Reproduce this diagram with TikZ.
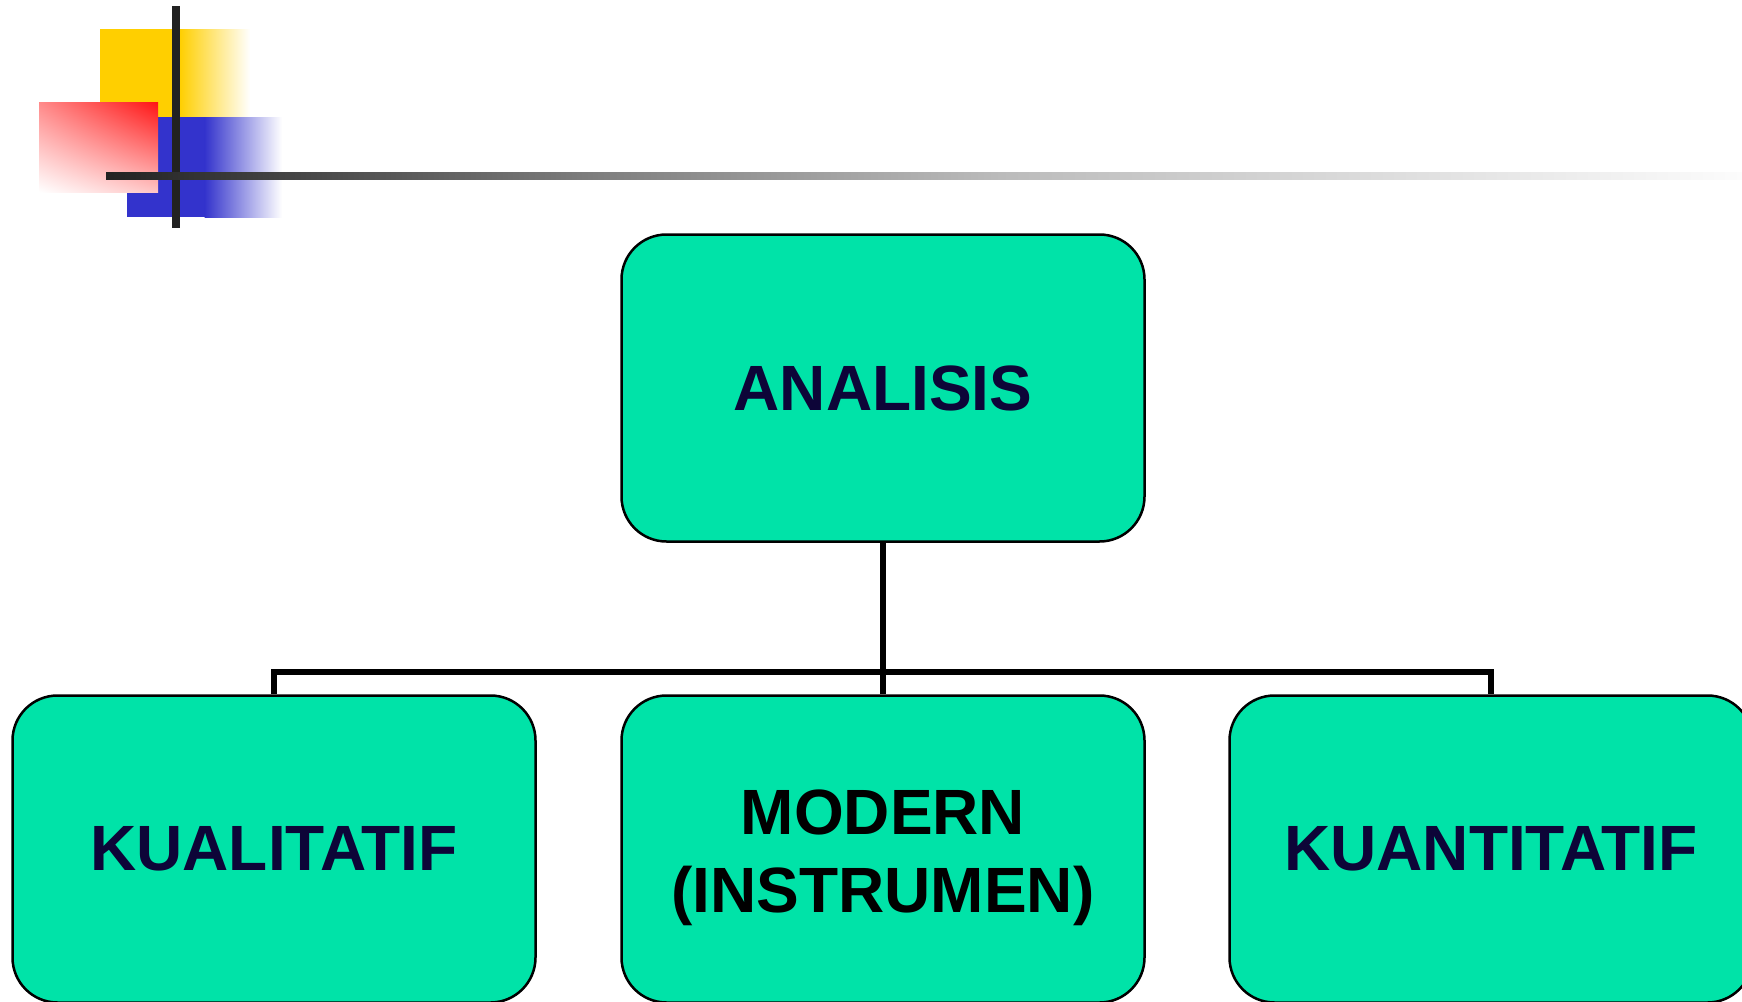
\documentclass[tikz,border=0pt]{standalone}
\usepackage{fontspec}
\setmainfont{Liberation Sans}
\usetikzlibrary{shadings}
\definecolor{boxfill}{HTML}{00E3A8}
\definecolor{navy}{HTML}{0D0538}
\definecolor{decoyellow}{HTML}{FFCF00}
\definecolor{decoblue}{HTML}{3333CC}
\definecolor{decored}{HTML}{FF1414}
\definecolor{gA}{HTML}{222222}
\definecolor{gB}{HTML}{7F7F7F}
\definecolor{gC}{HTML}{BBBBBB}
\definecolor{gD}{HTML}{FCFCFC}
\begin{document}
\begin{tikzpicture}[x=1pt,y=-1pt,
  box/.style={draw=black, line width=2.5pt, fill=boxfill, rounded corners=45pt,
    minimum width=523pt, minimum height=307pt, inner sep=0pt,
    font=\fontsize{64}{78}\selectfont\bfseries, text=navy, align=center},
  conn/.style={line width=5.5pt, draw=black}]
\useasboundingbox (0,0) rectangle (1742,1001);
% decoration
\fill[decoyellow] (100,29) rectangle (180,117);
\shade[left color=decoyellow, right color=white] (179.5,29) rectangle (250,117);
\fill[decoblue] (127,117) rectangle (205,217);
\shade[left color=decoblue, right color=white] (204.5,117) rectangle (282,217);
\shade[upper left=decored!50!white, upper right=decored, lower left=white, lower right=decored!25!white] (39,102) rectangle (158,192);
\fill[gA] (172,6) rectangle (180,228);
\shade[left color=gA, right color=gB] (106,172) rectangle (600.5,179);
\shade[left color=gB, right color=gC] (600,172) rectangle (1000.5,179);
\shade[left color=gC, right color=gD] (1000,172) rectangle (1742,179);
% boxes
\node[box] (an) at (883,388) {ANALISIS};
\node[box] (kl) at (274,849) {KUALITATIF};
\node[box, text=black, text depth=0pt, text height=126pt] (md) at (883,849) {MODERN\\(INSTRUMEN)};
\node[box] (kt) at (1491,849) {KUANTITATIF};
\coordinate (bus) at (883,672);
\draw[conn] (an.south) -- (bus);
\draw[conn] (kl.north) |- (bus) -| (kt.north);
\draw[conn] (md.north) -- (bus);
\end{tikzpicture}
\end{document}
